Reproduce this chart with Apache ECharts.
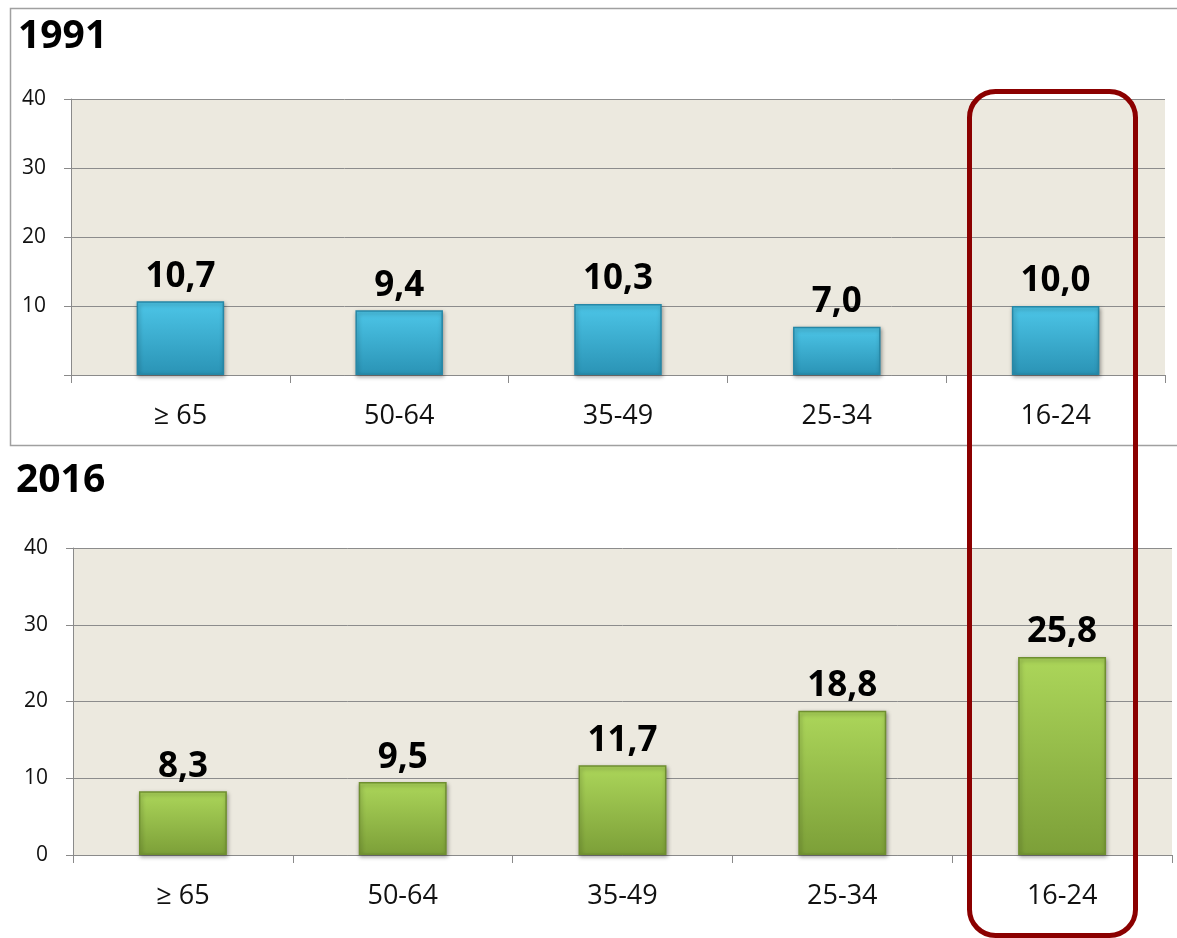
<!DOCTYPE html>
<html>
<head>
<meta charset="utf-8">
<script src="https://cdn.jsdelivr.net/npm/echarts@6/dist/echarts.min.js"></script>
<style>
html,body{margin:0;padding:0;background:#fff;}
#chart{width:1177px;height:938px;}
</style>
</head>
<body>
<div id="chart"></div>
<script>
const categories = ['≥ 65', '50-64', '35-49', '25-34', '16-24'];
const values1991 = [10.7, 9.4, 10.3, 7.0, 10.0];
const values2016 = [8.3, 9.5, 11.7, 18.8, 25.8];
const titles = ['1991', '2016'];
const yTicks = [0, 10, 20, 30, 40];

const chart = echarts.init(document.getElementById('chart'));
const fmt = v => v.toFixed(1).replace('.', ',');

function xAxis(gi) {
  return {
    type: 'category', gridIndex: gi, data: categories,
    axisLine: {lineStyle: {color: '#8a8a8a', width: 1}},
    axisTick: {show: true, length: 8, lineStyle: {color: '#8a8a8a'}},
    axisLabel: {color: '#111', fontSize: 27, margin: 28, fontFamily: 'Open Sans'}
  };
}
function yAxis(gi, hideZero) {
  return {
    type: 'value', gridIndex: gi, min: yTicks[0], max: yTicks[yTicks.length - 1], interval: 10,
    axisLine: {show: true, lineStyle: {color: '#8a8a8a'}},
    axisTick: {show: true, length: 7, lineStyle: {color: '#8a8a8a'}},
    axisLabel: {color: '#111', fontSize: 21, margin: 25, fontFamily: 'Open Sans',
      formatter: v => (hideZero && v === 0) ? '' : String(v)},
    splitLine: {show: true, lineStyle: {color: '#8c8c8c', width: 1}}
  };
}
function barSeries(gi, data, c1, c2, border) {
  return {
    type: 'bar', xAxisIndex: gi, yAxisIndex: gi, data: data, barWidth: '40%',
    itemStyle: {
      color: {type: 'linear', x: 0, y: 0, x2: 0, y2: 1, colorStops: [
        {offset: 0, color: c1}, {offset: 1, color: c2}]},
      borderColor: border, borderWidth: 1.5,
      shadowColor: 'rgba(0,0,0,0.35)', shadowBlur: 4, shadowOffsetX: 1, shadowOffsetY: 2
    },
    label: {show: true, position: 'top', distance: 7, formatter: p => fmt(p.value),
      color: '#000', fontSize: 35, fontWeight: 'bold', fontFamily: 'Open Sans'}
  };
}

chart.setOption({
  animation: false,
  backgroundColor: '#ffffff',
  grid: [
    {left: 71, right: 12, top: 99, height: 276, show: true, backgroundColor: '#ECE9DF', borderWidth: 0},
    {left: 73, right: 5, top: 548, height: 307, show: true, backgroundColor: '#ECE9DF', borderWidth: 0}
  ],
  xAxis: [xAxis(0), xAxis(1)],
  yAxis: [yAxis(0, true), yAxis(1, false)],
  series: [
    barSeries(0, values1991, '#4DC6E8', '#2A93B5', '#2687A6'),
    barSeries(1, values2016, '#ACD65A', '#7C9F38', '#6F8F30')
  ],
  graphic: [
    {type: 'rect', z: -1, shape: {x: 10.5, y: 8.5, width: 1175, height: 437},
      style: {fill: 'none', stroke: '#a0a0a0', lineWidth: 1.5}},
    {type: 'text', left: 18, top: 17, style: {text: titles[0], font: 'bold 39px "Open Sans"', fill: '#000'}},
    {type: 'text', left: 16, top: 461, style: {text: titles[1], font: 'bold 39px "Open Sans"', fill: '#000'}},
    {type: 'rect', z: 100, shape: {x: 969.5, y: 91.5, width: 166, height: 844, r: 26},
      style: {fill: 'none', stroke: '#8B0000', lineWidth: 5}}
  ]
});
</script>
</body>
</html>
